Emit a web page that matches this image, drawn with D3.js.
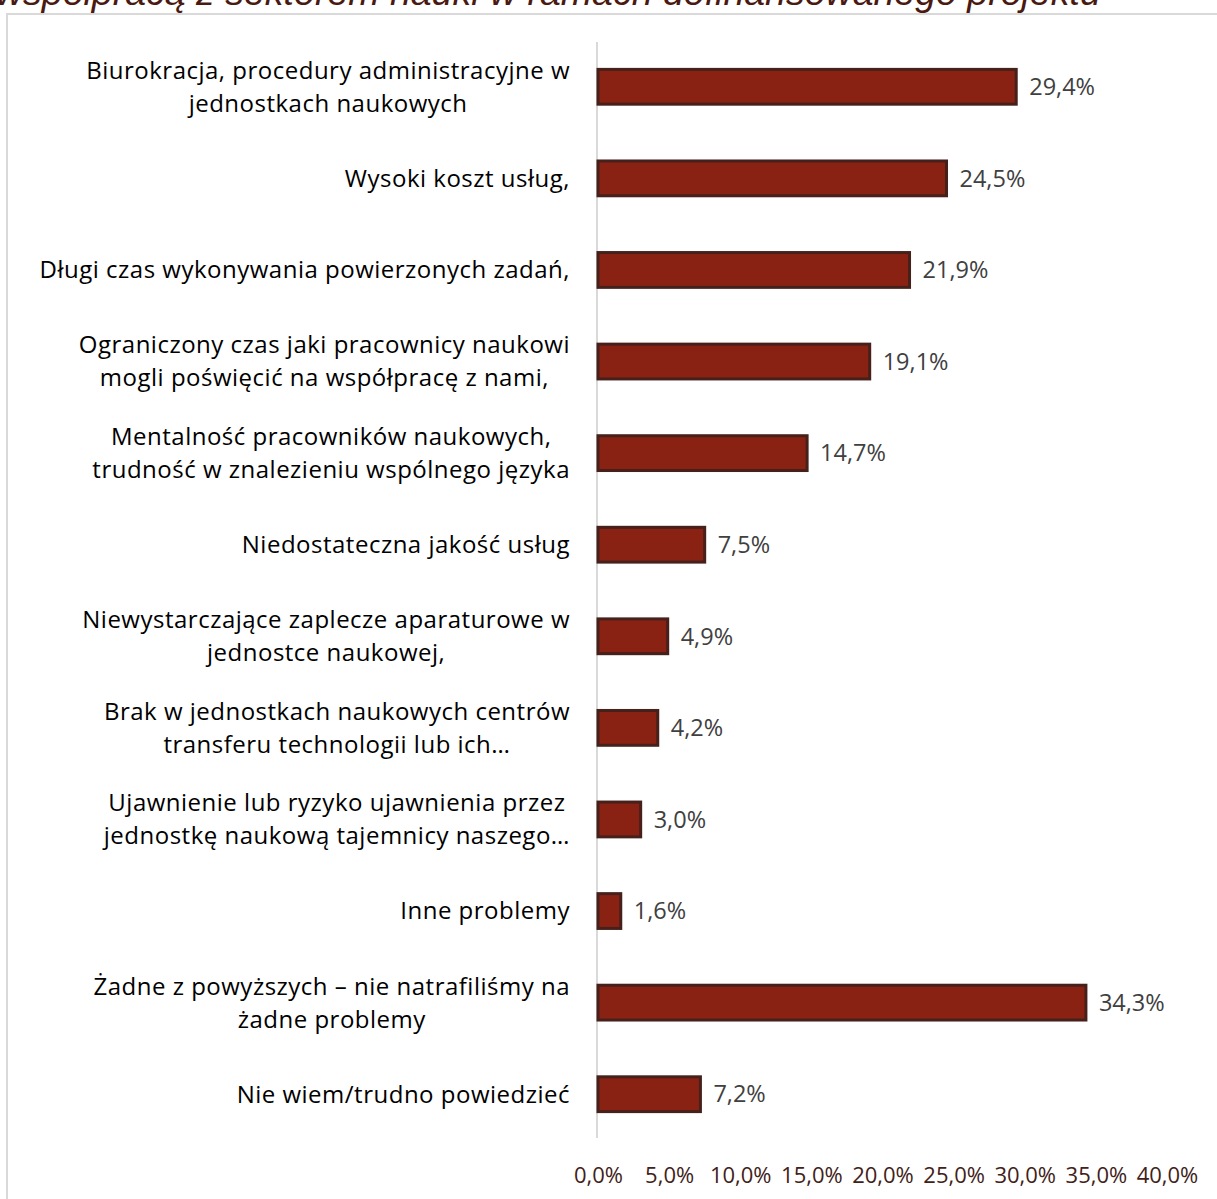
<!DOCTYPE html>
<html>
<head>
<meta charset="utf-8">
<script src="https://cdn.jsdelivr.net/npm/d3@7"></script>
<style>
  html, body { margin: 0; padding: 0; background: #fff; }
  svg { display: block; }
</style>
</head>
<body>
<svg id="chart" width="1217" height="1199"></svg>
<script>
// Problems met in cooperation with research units (share of answers)
const categories = [
  ["Biurokracja, procedury administracyjne w", "jednostkach naukowych"],
  ["Wysoki koszt usług,"],
  ["Długi czas wykonywania powierzonych zadań,"],
  ["Ograniczony czas jaki pracownicy naukowi", "mogli poświęcić na współpracę z nami,"],
  ["Mentalność pracowników naukowych,", "trudność w znalezieniu wspólnego języka"],
  ["Niedostateczna jakość usług"],
  ["Niewystarczające zaplecze aparaturowe w", "jednostce naukowej,"],
  ["Brak w jednostkach naukowych centrów", "transferu technologii lub ich…"],
  ["Ujawnienie lub ryzyko ujawnienia przez", "jednostkę naukową tajemnicy naszego…"],
  ["Inne problemy"],
  ["Żadne z powyższych – nie natrafiliśmy na", "żadne problemy"],
  ["Nie wiem/trudno powiedzieć"]
];
const values = [29.4, 24.5, 21.9, 19.1, 14.7, 7.5, 4.9, 4.2, 3.0, 1.6, 34.3, 7.2];
const tickValues = [0, 5, 10, 15, 20, 25, 30, 35, 40];
const titleText = "współpracą z sektorem nauki w ramach dofinansowanego projektu";

const fmt = v => d3.format(".1f")(v).replace(".", ",") + "%";
const FONT = "'Open Sans', sans-serif";

const svg = d3.select("#chart");

// Title (partly above the frame)
svg.append("text")
  .attr("x", -4).attr("y", 5)
  .attr("font-family", "'Liberation Sans', Arial, sans-serif")
  .attr("font-style", "italic")
  .attr("font-size", 37.5)
  .attr("fill", "#4a1a12")
  .text(titleText);

// Chart frame
svg.append("rect")
  .attr("x", 7).attr("y", 14)
  .attr("width", 1230).attr("height", 1200)
  .attr("fill", "none")
  .attr("stroke", "#d9d9d9")
  .attr("stroke-width", 2);

const x = d3.scaleLinear().domain([0, 40]).range([598, 1167]);
const y = d3.scaleBand()
  .domain(d3.range(categories.length))
  .range([41, 1140])
  .paddingInner(0.62)
  .paddingOuter(0.31);

// Vertical category axis line
svg.append("line")
  .attr("x1", 597).attr("x2", 597)
  .attr("y1", 42).attr("y2", 1138)
  .attr("stroke", "#d9d9d9")
  .attr("stroke-width", 2);

// Bars
svg.append("g").selectAll("rect")
  .data(values)
  .join("rect")
  .attr("x", x(0))
  .attr("y", (d, i) => y(i))
  .attr("width", d => x(d) - x(0))
  .attr("height", y.bandwidth())
  .attr("fill", "#8a2214")
  .attr("stroke", "#46201a")
  .attr("stroke-width", 3);

// Value labels
svg.append("g").selectAll("text")
  .data(values)
  .join("text")
  .attr("x", d => x(d) + 13)
  .attr("y", (d, i) => y(i) + y.bandwidth() / 2)
  .attr("dy", "0.35em")
  .attr("font-family", FONT)
  .attr("font-size", 23.5)
  .attr("fill", "#404040")
  .text(d => fmt(d));

// Category labels: block right-aligned, lines centred within the block
const labelRight = 570;
const lineH = 33;
svg.append("g").selectAll("text")
  .data(categories)
  .join("text")
  .attr("font-family", FONT)
  .attr("font-size", 24)
  .attr("letter-spacing", 0.5)
  .attr("fill", "#000")
  .attr("text-anchor", "middle")
  .each(function (lines, i) {
    const t = d3.select(this);
    const cy = y(i) + y.bandwidth() / 2;
    const spans = lines.map((ln, k) => t.append("tspan")
      .attr("y", cy + (k - (lines.length - 1) / 2) * lineH)
      .attr("dy", "0.35em")
      .text(ln));
    const w = d3.max(spans, s => s.node().getComputedTextLength());
    spans.forEach(s => s.attr("x", labelRight - w / 2));
  });

// Value axis ticks
const axis = d3.axisBottom(x).tickValues(tickValues).tickSize(0).tickFormat(fmt);
const ax = svg.append("g").attr("transform", "translate(0,1164)").call(axis);
ax.select(".domain").remove();
ax.selectAll("text")
  .attr("font-family", FONT)
  .attr("font-size", 22)
  .attr("fill", "#3f2219")
  .attr("dy", "0.71em");
</script>
</body>
</html>
